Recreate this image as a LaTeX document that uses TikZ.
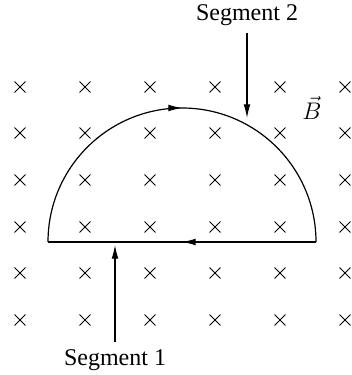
\documentclass[tikz,border=0pt]{standalone}
\usepackage{amsmath}
\usepackage{fontspec}
\setmainfont{Liberation Serif}
\usetikzlibrary{arrows.meta,positioning,shapes.misc,decorations.markings}

\begin{document}
\begin{tikzpicture}[
    x=0.5pt, y=0.5pt,
    font=\fontsize{12}{14}\selectfont,
    fieldmark/.style={cross out, draw, minimum size=5pt, inner sep=0pt, line width=0.45pt},
    loopline/.style={line width=0.6pt},
    midarrow/.style={postaction={decorate}, decoration={markings, mark=at position 0.5 with {\arrow{Latex[length=2.4mm,width=1.2mm]}}}},
    pointer/.style={-{Latex[length=2.4mm,width=1.2mm]}, line width=0.6pt}
]
\useasboundingbox (0,0) rectangle (352,375);

% field into the page
\foreach \i [count=\c] in {20,85,...,345}
  \foreach \j [count=\r] in {55,102,148,195,242,288}
    \node[fieldmark] (x\c\r) at (\i,\j) {};

% current loop
\coordinate (lft) at (48,133);
\coordinate (rgt) at (316,133);
\draw[loopline, midarrow] (lft) arc[start angle=180, end angle=0, radius=134];
\draw[loopline, midarrow] (rgt) -- (lft);

% labels
\node (seg2) at (247,360) {Segment 2};
\coordinate (hit2) at (247,257);
\draw[pointer] (seg2) -- (hit2);

\node (seg1) at (115,15) {Segment 1};
\coordinate (hit1) at (115,130);
\draw[pointer] (seg1) -- (hit1);

\node (bfield) at (312,267) {$\vec{B}$};
\end{tikzpicture}
\end{document}
